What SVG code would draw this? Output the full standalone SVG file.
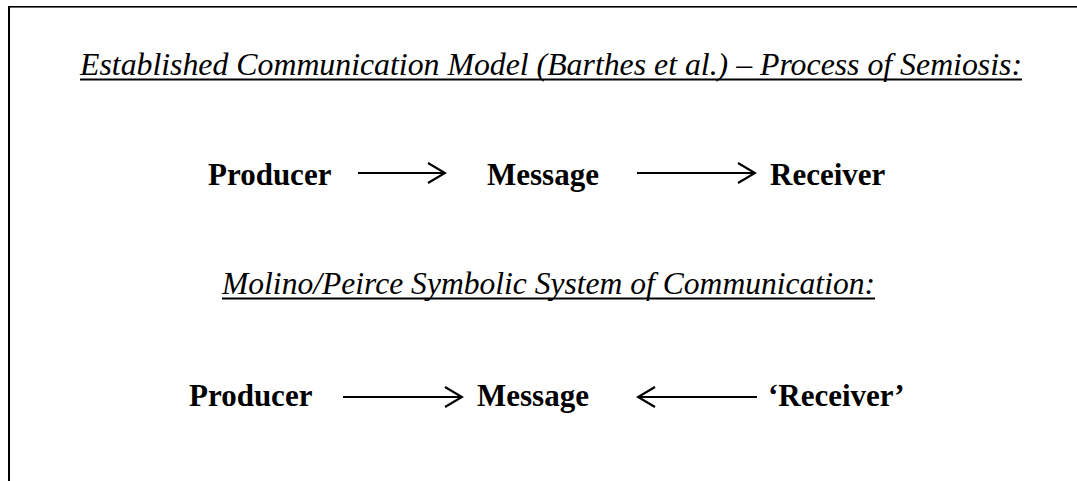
<svg xmlns="http://www.w3.org/2000/svg" width="1077" height="481" viewBox="0 0 1077 481">
  <defs>
    <style>
      .title { font-family: "Liberation Serif", "Times New Roman", serif; font-style: italic; font-size: 31.5px; fill: #000; }
      .node { font-family: "Liberation Serif", "Times New Roman", serif; font-weight: bold; font-size: 31px; fill: #000; }
      .rule { stroke: #000; stroke-width: 2; }
      .edge { stroke: #000; stroke-width: 2.2; fill: none; }
      .frame { fill: #000; }
    </style>
    <marker id="head" viewBox="0 0 20 24" refX="18" refY="12" markerWidth="20" markerHeight="24" markerUnits="userSpaceOnUse" orient="auto-start-reverse">
      <path d="M1 2 L18 12 L1 22" fill="none" stroke="#000" stroke-width="2.2"/>
    </marker>
  </defs>

  <rect width="1077" height="481" fill="#fff"/>

  <!-- open frame: top and left edges -->
  <g id="frame">
    <rect class="frame" x="8" y="6" width="1069" height="1.6"/>
    <rect class="frame" x="8" y="6" width="2" height="475"/>
  </g>

  <!-- headings -->
  <g id="heading-established">
    <text class="title" x="80" y="75" textLength="942" lengthAdjust="spacingAndGlyphs">Established Communication Model (Barthes et al.) – Process of Semiosis:</text>
    <line class="rule" x1="80" y1="79.5" x2="1022" y2="79.5"/>
  </g>
  <g id="heading-molino">
    <text class="title" x="222" y="294" textLength="653" lengthAdjust="spacingAndGlyphs">Molino/Peirce Symbolic System of Communication:</text>
    <line class="rule" x1="222" y1="298.5" x2="875" y2="298.5"/>
  </g>

  <!-- first model -->
  <g id="producer-1"><text class="node" x="208" y="185">Producer</text></g>
  <g id="message-1"><text class="node" x="487" y="185">Message</text></g>
  <g id="receiver-1"><text class="node" x="770" y="185">Receiver</text></g>

  <!-- second model -->
  <g id="producer-2"><text class="node" x="189" y="406">Producer</text></g>
  <g id="message-2"><text class="node" x="477" y="406">Message</text></g>
  <g id="receiver-2"><text class="node" x="768" y="406">‘Receiver’</text></g>

  <!-- connectors -->
  <g id="connectors">
    <line class="edge" x1="358" y1="173" x2="445" y2="173" marker-end="url(#head)"/>
    <line class="edge" x1="637" y1="173" x2="755" y2="173" marker-end="url(#head)"/>
    <line class="edge" x1="343" y1="397" x2="462" y2="397" marker-end="url(#head)"/>
    <line class="edge" x1="757" y1="397" x2="638" y2="397" marker-end="url(#head)"/>
  </g>
</svg>
